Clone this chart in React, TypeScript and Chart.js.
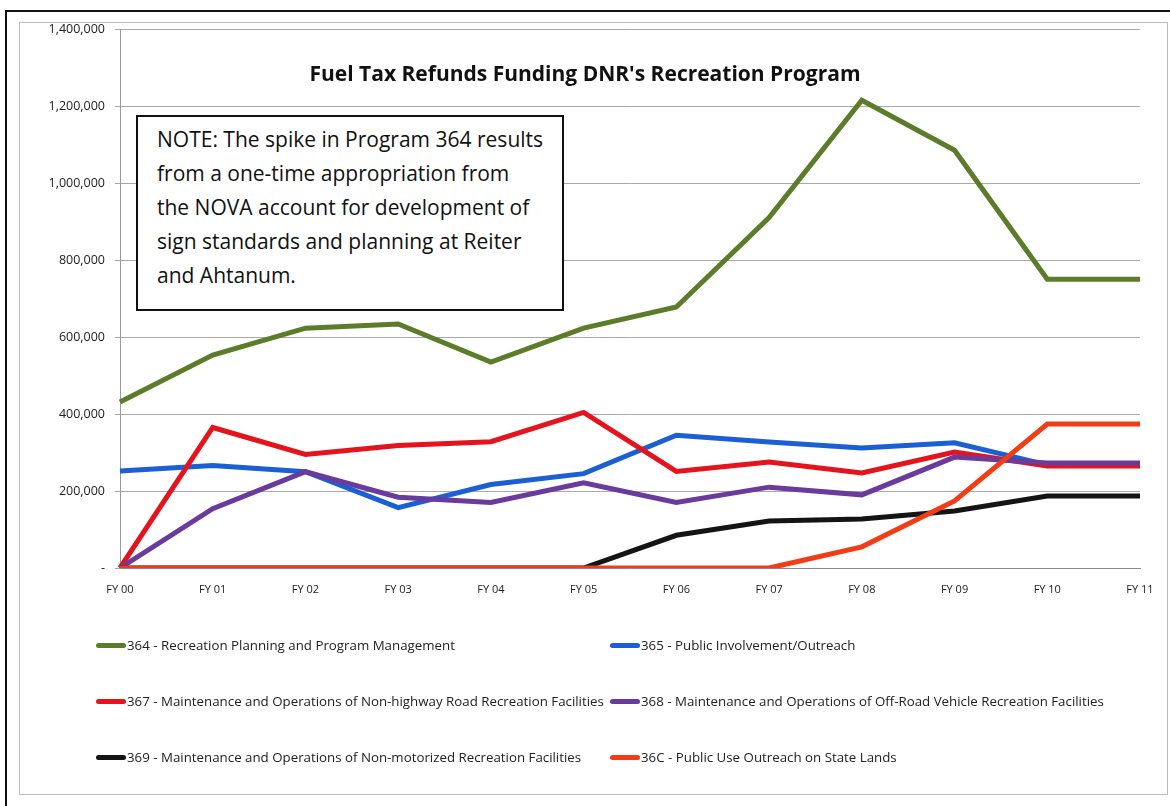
import React, { useEffect, useRef } from "react";
import { Chart, registerables } from "chart.js";

Chart.register(...registerables);

const categories = ["FY 00", "FY 01", "FY 02", "FY 03", "FY 04", "FY 05", "FY 06", "FY 07", "FY 08", "FY 09", "FY 10", "FY 11"];

const s364 = [431000, 553000, 623000, 634000, 535000, 623000, 678000, 910000, 1215000, 1085000, 750000, 750000];
const s365 = [252000, 266000, 250000, 157000, 217000, 245000, 345000, 327000, 312000, 325000, 268000, 268000];
const s367 = [0, 365000, 295000, 318000, 328000, 404000, 251000, 275000, 247000, 301000, 265000, 265000];
const s368 = [0, 154000, 250000, 184000, 170000, 221000, 170000, 210000, 190000, 288000, 273000, 273000];
const s369 = [0, 0, 0, 0, 0, 0, 85000, 122000, 127000, 148000, 187000, 187000];
const s36C = [0, 0, 0, 0, 0, 0, 0, 0, 55000, 174000, 374000, 374000];

const seriesLabels = [
  "364 - Recreation Planning and Program Management",
  "365 - Public Involvement/Outreach",
  "367 - Maintenance and Operations of Non-highway Road Recreation Facilities",
  "368 - Maintenance and Operations of Off-Road Vehicle Recreation Facilities",
  "369 - Maintenance and Operations of Non-motorized Recreation Facilities",
  "36C - Public Use Outreach on State Lands",
];
const seriesData = [s364, s365, s367, s368, s369, s36C];
const seriesColors = ["#5c7c2a", "#1b5fd4", "#e5141c", "#6a3a9c", "#141414", "#f13c16"];

const yTicks = [0, 200000, 400000, 600000, 800000, 1000000, 1200000, 1400000];

const titleText = "Fuel Tax Refunds Funding DNR's Recreation Program";
const noteLines = [
  "NOTE: The spike in Program 364 results",
  "from a one-time appropriation from",
  "the NOVA account for development of",
  "sign standards and planning at Reiter",
  "and Ahtanum.",
];

const FONT = "'Open Sans', 'DejaVu Sans', sans-serif";

export default function App() {
  const ref = useRef<HTMLCanvasElement | null>(null);

  useEffect(() => {
    if (!ref.current) return;
    const n = seriesData.length;
    const chart = new Chart(ref.current, {
      type: "line",
      data: {
        labels: categories,
        datasets: seriesData.map((d, i) => ({
          label: seriesLabels[i],
          data: d,
          borderColor: seriesColors[i],
          backgroundColor: seriesColors[i],
          borderWidth: 5,
          pointRadius: 0,
          tension: 0,
          fill: false,
          order: n - i,
          borderJoinStyle: "miter" as const,
        })),
      },
      options: {
        animation: false,
        responsive: false,
        maintainAspectRatio: false,
        layout: { padding: { left: 20, right: 30, top: 29, bottom: 198 } },
        plugins: {
          legend: { display: false },
          title: { display: false },
          tooltip: { enabled: false },
        },
        scales: {
          x: {
            grid: { display: false, drawTicks: false },
            border: { display: true, color: "#8a8a8a", width: 1 },
            ticks: {
              color: "#222",
              font: { family: FONT, size: 11 },
              padding: 15,
              maxRotation: 0,
              autoSkip: false,
            },
            afterFit: (s: any) => {
              s.height = 40;
            },
          },
          y: {
            min: 0,
            max: 1400000,
            afterBuildTicks: (s: any) => {
              s.ticks = yTicks.map((v) => ({ value: v }));
            },
            grid: {
              color: "#a9a9a9",
              lineWidth: 1,
              tickLength: 5,
              drawTicks: true,
            },
            border: { display: true, color: "#9a9a9a", width: 1 },
            ticks: {
              color: "#222",
              font: { family: FONT, size: 12.5 },
              padding: 10,
              callback: (v: any) => (Number(v) === 0 ? "-" : Number(v).toLocaleString("en-US")),
            },
            afterFit: (s: any) => {
              s.width = 100;
            },
          },
        },
      },
    });
    return () => chart.destroy();
  }, []);

  const legendRows = [
    [0, 1],
    [2, 3],
    [4, 5],
  ];
  const rowY = [645, 701, 757];
  const colMarkerX = [96, 610];

  return (
    <div style={{ position: "fixed", left: 0, top: 0, width: 1170, height: 806, background: "#fff", overflow: "hidden", fontFamily: FONT }}>
      <div style={{ position: "absolute", left: 5, top: 10, width: 1200, height: 900, borderLeft: "2px solid #111", borderTop: "2px solid #111" }} />
      <div style={{ position: "absolute", left: 19, top: 22, width: 1147, height: 771, border: "1px solid #bdbdbd" }} />
      <canvas ref={ref} width={1170} height={806} style={{ position: "absolute", left: 0, top: 0, width: 1170, height: 806 }} />
      <div style={{ position: "absolute", left: 0, width: 1170, top: 63, textAlign: "center", fontWeight: 700, fontSize: 21, lineHeight: "21px", color: "#111" }}>
        {titleText}
      </div>
      <div
        style={{
          position: "absolute",
          left: 136,
          top: 115,
          width: 428,
          height: 196,
          boxSizing: "border-box",
          border: "2px solid #111",
          background: "#fff",
          padding: "5px 4px 0 19px",
          fontSize: 21,
          lineHeight: "34px",
          color: "#111",
          whiteSpace: "nowrap",
        }}
      >
        {noteLines.map((l, i) => (
          <div key={i}>{l}</div>
        ))}
      </div>
      {legendRows.map((row, r) =>
        row.map((idx, c) => (
          <div key={idx} style={{ position: "absolute", left: colMarkerX[c], top: rowY[r] - 10, height: 20, display: "flex", alignItems: "center", whiteSpace: "nowrap" }}>
            <span style={{ display: "inline-block", width: 30, height: 5, borderRadius: 3, background: seriesColors[idx], marginRight: 1 }} />
            <span style={{ fontSize: 13.3, color: "#222" }}>{seriesLabels[idx]}</span>
          </div>
        ))
      )}
    </div>
  );
}
